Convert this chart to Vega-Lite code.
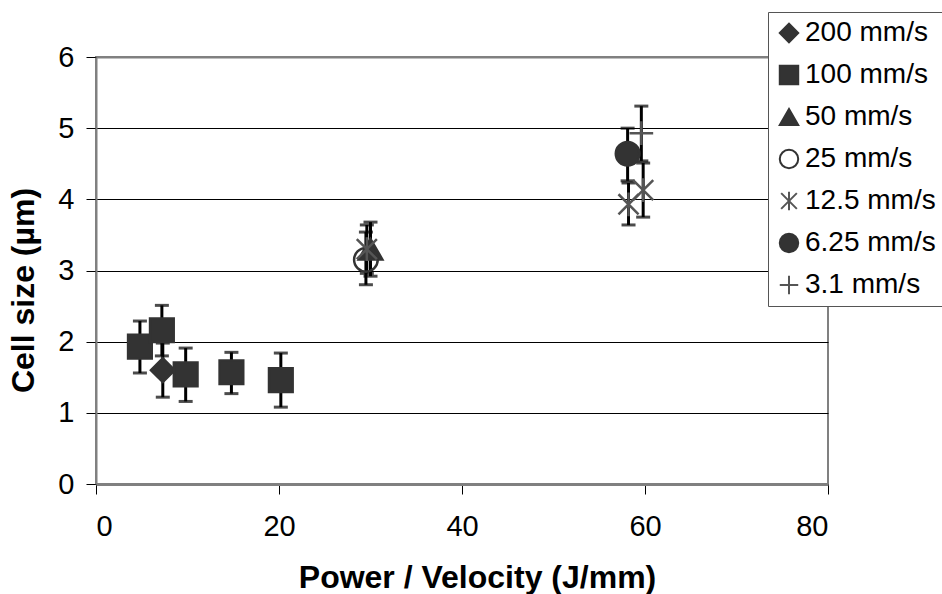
{
  "$schema": "https://vega.github.io/schema/vega-lite/v6.json",
  "autosize": {"type": "none"},
  "padding": {"left": 96, "top": 57, "right": 114, "bottom": 110},
  "width": 732,
  "height": 427,
  "background": "white",
  "config": {
    "font": "Liberation Sans",
    "view": {"stroke": "#808080", "strokeWidth": 2},
    "axis": {
      "labelFont": "Liberation Sans",
      "titleFont": "Liberation Sans",
      "labelColor": "black",
      "titleColor": "black",
      "tickColor": "black",
      "tickSize": 10,
      "tickWidth": 1,
      "domainColor": "#808080"
    },
    "legend": {
      "labelFont": "Liberation Sans",
      "labelFontSize": 28,
      "labelColor": "black",
      "symbolSize": 340,
      "symbolStrokeWidth": 2,
      "rowPadding": 14,
      "labelOffset": 2,
      "padding": 7,
      "strokeColor": "#555555",
      "fillColor": "white"
    }
  },
  "data": {
    "values": [
      {"s": "200 mm/s", "x": 7.3, "y": 1.60, "lo": 1.22, "hi": 1.98},
      {"s": "100 mm/s", "x": 4.8, "y": 1.93, "lo": 1.56, "hi": 2.29},
      {"s": "100 mm/s", "x": 7.2, "y": 2.16, "lo": 1.80, "hi": 2.51},
      {"s": "100 mm/s", "x": 9.8, "y": 1.54, "lo": 1.16, "hi": 1.91},
      {"s": "100 mm/s", "x": 14.8, "y": 1.57, "lo": 1.27, "hi": 1.85},
      {"s": "100 mm/s", "x": 20.2, "y": 1.46, "lo": 1.08, "hi": 1.84},
      {"s": "50 mm/s", "x": 30.0, "y": 3.30, "lo": 2.92, "hi": 3.68},
      {"s": "25 mm/s", "x": 29.5, "y": 3.15, "lo": 2.80, "hi": 3.54},
      {"s": "12.5 mm/s", "x": 29.6, "y": 3.30, "lo": 2.96, "hi": 3.64},
      {"s": "12.5 mm/s", "x": 58.2, "y": 3.93, "lo": 3.64, "hi": 4.23},
      {"s": "12.5 mm/s", "x": 59.8, "y": 4.13, "lo": 3.75, "hi": 4.51},
      {"s": "6.25 mm/s", "x": 58.1, "y": 4.64, "lo": 4.26, "hi": 5.00},
      {"s": "3.1 mm/s", "x": 59.6, "y": 4.93, "lo": 4.54, "hi": 5.31}
    ]
  },
  "encoding": {
    "x": {
      "field": "x", "type": "quantitative",
      "scale": {"domain": [0, 80], "nice": false},
      "axis": {
        "values": [0, 20, 40, 60, 80],
        "format": "d",
        "title": "Power / Velocity (J/mm)",
        "titleFontSize": 32,
        "titleFontWeight": "bold",
        "titleBaseline": "alphabetic",
        "titleX": 381,
        "titleY": 103,
        "labelFontSize": 29,
        "labelBaseline": "alphabetic",
        "labelPadding": 41,
        "domainWidth": 3,
        "grid": false
      }
    }
  },
  "layer": [
    {
      "mark": {"type": "rule", "color": "black", "strokeWidth": 3},
      "encoding": {
        "y": {
          "field": "lo", "type": "quantitative",
          "scale": {"domain": [0, 6], "nice": false},
          "axis": {
            "values": [0, 1, 2, 3, 4, 5, 6],
            "format": "d",
            "title": "Cell size (µm)",
            "titleFontSize": 32,
            "titleFontWeight": "bold",
            "titleBaseline": "alphabetic",
            "titleAngle": 270,
            "titleX": -63,
            "titleY": 233,
            "labelFontSize": 29,
            "labelPadding": 12,
            "domainWidth": 2,
            "grid": true,
            "gridColor": {"condition": {"test": "datum.value == 0 || datum.value == 6", "value": "#808080"}, "value": "black"},
            "gridWidth": {"condition": {"test": "datum.value == 0 || datum.value == 6", "value": 2}, "value": 1}
          }
        },
        "y2": {"field": "hi"}
      }
    },
    {
      "mark": {"type": "tick", "color": "black", "orient": "horizontal", "size": 14, "thickness": 3},
      "encoding": {"y": {"field": "lo", "type": "quantitative"}}
    },
    {
      "mark": {"type": "tick", "color": "black", "orient": "horizontal", "size": 14, "thickness": 3},
      "encoding": {"y": {"field": "hi", "type": "quantitative"}}
    },
    {
      "mark": {"type": "point", "size": 560, "strokeWidth": 2.5, "opacity": 1},
      "encoding": {
        "y": {"field": "y", "type": "quantitative"},
        "shape": {
          "field": "s", "type": "nominal",
          "scale": {
            "domain": ["200 mm/s", "100 mm/s", "50 mm/s", "25 mm/s", "12.5 mm/s", "6.25 mm/s", "3.1 mm/s"],
            "range": ["diamond", "square", "triangle-up", "circle", "M-0.85,-0.85L0.85,0.85M-0.85,0.85L0.85,-0.85M0,-1L0,1", "circle", "M-1,0L1,0M0,-1L0,1"]
          },
          "legend": {
            "title": null,
            "orient": "none",
            "legendX": 672,
            "legendY": -45
          }
        },
        "fill": {
          "field": "s", "type": "nominal",
          "scale": {
            "domain": ["200 mm/s", "100 mm/s", "50 mm/s", "25 mm/s", "12.5 mm/s", "6.25 mm/s", "3.1 mm/s"],
            "range": ["#333333", "#333333", "#333333", "transparent", "transparent", "#333333", "transparent"]
          },
          "legend": {
            "title": null,
            "orient": "none",
            "legendX": 672,
            "legendY": -45
          }
        },
        "stroke": {
          "field": "s", "type": "nominal",
          "scale": {
            "domain": ["200 mm/s", "100 mm/s", "50 mm/s", "25 mm/s", "12.5 mm/s", "6.25 mm/s", "3.1 mm/s"],
            "range": ["#333333", "#333333", "#333333", "#333333", "#555555", "#333333", "#555555"]
          },
          "legend": {
            "title": null,
            "orient": "none",
            "legendX": 672,
            "legendY": -45
          }
        }
      }
    }
  ]
}
